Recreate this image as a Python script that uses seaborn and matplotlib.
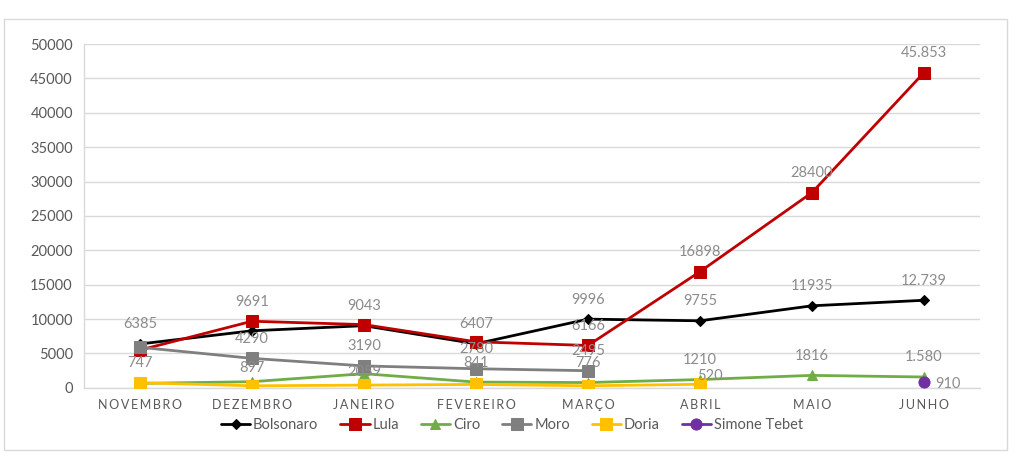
import numpy as np
import pandas as pd
import matplotlib
matplotlib.use("Agg")
import matplotlib.pyplot as plt
from matplotlib.patches import Rectangle
import seaborn as sns

# Data
months = ["NOVEMBRO", "DEZEMBRO", "JANEIRO", "FEVEREIRO",
          "MARÇO", "ABRIL", "MAIO", "JUNHO"]
candidates = ["Bolsonaro", "Lula", "Ciro", "Moro", "Doria", "Simone Tebet"]

bolsonaro = [6385, 8300, 9043, 6407, 9996, 9755, 11935, 12739]
lula = [5500, 9691, 9200, 6700, 6166, 16898, 28400, 45853]
ciro = [650, 897, 2059, 841, 776, 1210, 1816, 1580]
moro = [5900, 4290, 3190, 2780, 2495, np.nan, np.nan, np.nan]
doria = [747, 300, 400, 500, 300, 520, np.nan, np.nan]
tebet = [np.nan, np.nan, np.nan, np.nan, np.nan, np.nan, np.nan, 910]

# data labels as printed on the chart (None = no label)
bolsonaro_labels = ["6385", None, "9043", "6407", "9996", "9755", "11935", "12.739"]
lula_labels = [None, "9691", None, None, "6166", "16898", "28400", "45.853"]
ciro_labels = [None, "897", "2059", "841", "776", "1210", "1816", "1.580"]
moro_labels = [None, "4290", "3190", "2780", "2495", None, None, None]
doria_labels = ["747", None, None, None, None, "520", None, None]
tebet_labels = [None, None, None, None, None, None, None, "910"]

series = {"Bolsonaro": bolsonaro, "Lula": lula, "Ciro": ciro,
          "Moro": moro, "Doria": doria, "Simone Tebet": tebet}
labels = {"Bolsonaro": bolsonaro_labels, "Lula": lula_labels,
          "Ciro": ciro_labels, "Moro": moro_labels,
          "Doria": doria_labels, "Simone Tebet": tebet_labels}

colors = {"Bolsonaro": "#000000", "Lula": "#c00000", "Ciro": "#70ad47",
          "Moro": "#7f7f7f", "Doria": "#ffc000", "Simone Tebet": "#7030a0"}
markers = {"Bolsonaro": "D", "Lula": "s", "Ciro": "^",
           "Moro": "s", "Doria": "s", "Simone Tebet": "o"}
msizes = {"Bolsonaro": 5.5, "Lula": 8, "Ciro": 7.5,
          "Moro": 8, "Doria": 8, "Simone Tebet": 8}

# a few labels sit off the usual "above" position in the original
label_offsets = {("Ciro", 1): (0, 10), ("Ciro", 2): (0, 1),
                 ("Doria", 5): (7, 6), ("Simone Tebet", 7): (17, -2)}

# long-form table
rows = []
for name in candidates:
    for m, v in zip(months, series[name]):
        rows.append({"Mes": m, "Candidato": name, "Valor": v})
df = pd.DataFrame(rows)

sns.set_style("white")
plt.rcParams["font.family"] = ["Lato", "DejaVu Sans"]

fig = plt.figure(figsize=(10.24, 4.69), dpi=100)
ax = fig.add_axes([0.082, 0.173, 0.875, 0.733])

for name in candidates:
    sub = df[df["Candidato"] == name].dropna()
    sns.lineplot(data=sub, x="Mes", y="Valor", ax=ax, color=colors[name],
                 marker=markers[name], markersize=msizes[name],
                 markeredgecolor=colors[name], linewidth=2, label=name,
                 sort=False, zorder=3)

# data labels
for name in candidates:
    for i, (v, t) in enumerate(zip(series[name], labels[name])):
        if t is None:
            continue
        if (name, i) in label_offsets:
            ax.annotate(t, (i, v), xytext=label_offsets[(name, i)],
                        textcoords="offset points", ha="center", va="center",
                        fontsize=10.5, color="#8c8c8c", zorder=5)
        else:
            ax.annotate(t, (i, v), xytext=(0, 9), textcoords="offset points",
                        ha="center", va="bottom", fontsize=10.5,
                        color="#8c8c8c", zorder=5)

ax.set_xlim(-0.5, len(months) - 0.5)
ax.set_ylim(0, 50000)
ax.set_yticks(range(0, 50001, 5000))
ax.set_xticks(range(len(months)))
ax.set_xticklabels(["\u2009".join(m) for m in months], fontsize=9,
                   color="#595959")
ax.set_xticks(np.arange(-0.5, len(months), 1), minor=True)
ax.tick_params(axis="x", which="major", length=0, pad=8)
ax.tick_params(axis="x", which="minor", length=5, color="#d9d9d9",
               direction="out")
ax.tick_params(axis="y", length=4, color="#d9d9d9", labelsize=10.5,
               labelcolor="#595959", pad=4)
ax.yaxis.grid(True, color="#d9d9d9", linewidth=1)
ax.set_axisbelow(True)
ax.set_xlabel(None)
ax.set_ylabel(None)
for s in ["top", "right"]:
    ax.spines[s].set_visible(False)
for s in ["left", "bottom"]:
    ax.spines[s].set_color("#d9d9d9")
    ax.spines[s].set_linewidth(1)

handles, names = ax.get_legend_handles_labels()
ax.legend_.remove()
fig.legend(handles, names, loc="center", bbox_to_anchor=(0.5, 0.094),
           ncol=6, frameon=False, fontsize=10.5, handlelength=2.0,
           handletextpad=0.2, columnspacing=1.5, labelcolor="#595959")

# outer chart frame
fig.patches.append(Rectangle((0.004, 0.04), 0.979, 0.919,
                             transform=fig.transFigure, fill=False,
                             edgecolor="#d9d9d9", linewidth=1))

fig.savefig("out.png", dpi=100)
